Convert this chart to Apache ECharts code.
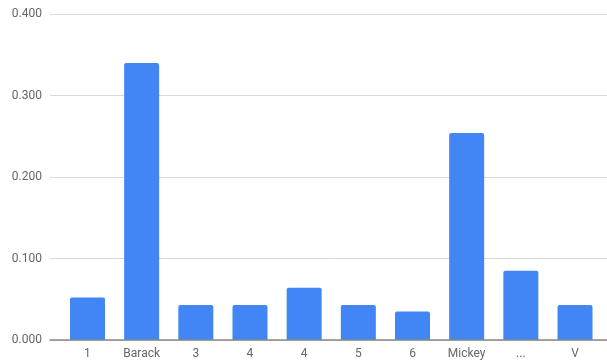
<!DOCTYPE html>
<html><head><meta charset="utf-8">
<script src="https://cdn.jsdelivr.net/npm/echarts@6/dist/echarts.min.js"></script>
<style>html,body{margin:0;padding:0;background:#fff}#c{width:607px;height:361px}</style>
</head><body><div id="c"></div>
<script>
const categories = ['1', 'Barack', '3', '4', '4', '5', '6', 'Mickey', '...', 'V'];
const values = [0.052, 0.340, 0.043, 0.043, 0.064, 0.043, 0.035, 0.254, 0.085, 0.043];
const yMin = 0, yMax = 0.4, yStep = 0.1;

const chart = echarts.init(document.getElementById('c'), null, {renderer: 'canvas'});
const font = 'Roboto, Arial, sans-serif';
chart.setOption({
  animation: false,
  grid: [
    {left: 50, right: 0, top: 14, bottom: 21},
    {left: 60.4, right: 4.9, top: 14, bottom: 21}
  ],
  xAxis: [
    {type: 'value', gridIndex: 0, min: 0, max: 1, show: true, z: 5,
     axisLabel: {show: false}, axisTick: {show: false}, splitLine: {show: false},
     axisLine: {show: true, lineStyle: {color: '#888', width: 1.5}}},
    {type: 'category', gridIndex: 1, data: categories, boundaryGap: true,
     axisLine: {show: false}, axisTick: {show: false},
     axisLabel: {color: '#666', fontSize: 12, fontFamily: font, margin: 8, interval: 0}}
  ],
  yAxis: [
    {type: 'value', gridIndex: 0, min: yMin, max: yMax, interval: yStep,
     axisLine: {show: false}, axisTick: {show: false},
     axisLabel: {color: '#666', fontSize: 12, fontFamily: font, margin: 8,
       formatter: v => v.toFixed(3)},
     splitLine: {lineStyle: {color: '#d9d9d9', width: 1}}},
    {type: 'value', gridIndex: 1, min: yMin, max: yMax, interval: yStep, show: false,
     splitLine: {show: false}}
  ],
  series: [{
    type: 'bar', xAxisIndex: 1, yAxisIndex: 1, data: values,
    barWidth: 35,
    itemStyle: {color: '#4285F4', borderRadius: [2, 2, 0, 0]}
  }]
});
</script></body></html>
